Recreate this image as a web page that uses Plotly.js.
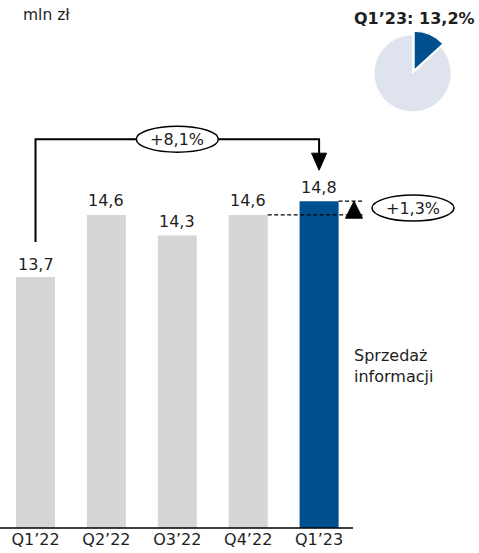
<!DOCTYPE html>
<html>
<head>
<meta charset="utf-8">
<script src="https://cdn.plot.ly/plotly-3.0.1.min.js"></script>
<style>html,body{margin:0;padding:0;background:#fff;}#chart{width:479px;height:553px;}</style>
</head>
<body>
<div id="chart"></div>
<script>
// ---- data ----
const categories = ["Q1’22", "Q2’22", "O3’22", "Q4’22", "Q1’23"];
const values = [13.7, 14.6, 14.3, 14.6, 14.8];
const valueLabels = ["13,7", "14,6", "14,3", "14,6", "14,8"];
const yoyLabel = "+8,1%";
const qoqLabel = "+1,3%";
const pieLabels = ["Sprzedaż informacji", "Pozostałe"];
const pieValues = [13.2, 86.8];
const pieTitle = "Q1’23: 13,2%";
const unitLabel = "mln zł";
const seriesName = "Sprzedaż<br>informacji";

// ---- styling / layout ----
const FONT = "DejaVu Sans, Verdana, sans-serif";
const FS = 16;
const TXT = "#1e1e1e";
const GREY = "#d5d6d8";
const BLUE = "#00508f";
const LIGHT = "#dee3ed";
const W = 479, H = 553, MB = 25;
const PH = H - MB;               // plot height in px
const Y0 = 10.05, PXU = 68.8;     // y range start, px per unit
const Y1 = Y0 + PH / PXU;
const XU = 70.9;                  // px per category
const X0 = -35.5 / XU, X1 = X0 + W / XU;
const up = px => px / PXU;
const px2x = px => X0 + px / XU;
const xs = categories.map((c, i) => i);
const last = values.length - 1;
const barW = 0.55;

const bar = {
  type: "bar", x: xs, y: values.map(v => v - Y0), base: Y0,
  width: barW,
  marker: {color: values.map((v, i) => i === last ? BLUE : GREY)},
  hoverinfo: "none", showlegend: false
};

const pie = {
  type: "pie", labels: pieLabels, values: pieValues,
  sort: false, direction: "clockwise", rotation: 0,
  marker: {colors: [BLUE, LIGHT], line: {color: "#ffffff", width: 1}},
  pull: [0.1, 0], textinfo: "none", hoverinfo: "none", showlegend: false,
  domain: {x: [370.3 / W, 455 / W], y: [1 - 115.7 / PH, 1 - 31 / PH]}
};

const topVal = Math.max(...values);
const yTop = topVal + up(62);
const annotations = [];
values.forEach((v, i) => {
  annotations.push({
    x: i, y: v, xref: "x", yref: "y", text: valueLabels[i], showarrow: false,
    yanchor: "middle", yshift: i === 0 ? 12 : 14,
    font: {family: FONT, size: FS, color: TXT}
  });
});
annotations.push({
  x: 2, y: yTop, xref: "x", yref: "y", text: yoyLabel, showarrow: false,
  yanchor: "middle", font: {family: FONT, size: FS, color: TXT}
});
annotations.push({
  x: px2x(413), y: (values[last] + values[last - 1]) / 2, xref: "x", yref: "y",
  text: qoqLabel, showarrow: false, yanchor: "middle",
  font: {family: FONT, size: FS, color: TXT}
});
annotations.push({
  x: px2x(352), y: Y0 + up(528 - 366), xref: "x", yref: "y", text: seriesName,
  showarrow: false, xanchor: "left", yanchor: "middle", align: "left",
  font: {family: FONT, size: FS, color: TXT}
});
annotations.push({
  x: 21 / W, y: 1 - 15 / PH, xref: "paper", yref: "paper", text: unitLabel,
  showarrow: false, xanchor: "left", yanchor: "middle",
  font: {family: FONT, size: 15.5, color: TXT}
});
annotations.push({
  x: 414 / W, y: 1 - 18.3 / PH, xref: "paper", yref: "paper", text: "<b>" + pieTitle + "</b>",
  showarrow: false, xanchor: "center", yanchor: "middle",
  font: {family: FONT, size: 16, color: TXT}
});

const DASH = "4px,2.5px";
const shapes = [
  // baseline
  {type: "line", xref: "x", yref: "paper", x0: X0, x1: px2x(353), y0: 0, y1: 0,
   line: {color: "#000", width: 1.5}},
  // bracket
  {type: "path", xref: "x", yref: "y",
   path: `M 0 ${values[0] + up(35)} L 0 ${yTop} L ${last} ${yTop} L ${last} ${values[last] + up(46)}`,
   line: {color: "#000", width: 2}},
  // down arrow head
  {type: "path", xref: "x", yref: "y", xsizemode: "pixel", ysizemode: "pixel",
   xanchor: last, yanchor: values[last] + up(31),
   path: "M -7.5 17 L 7.5 17 L 0 0 Z", fillcolor: "#000", line: {color: "#000", width: 1}},
  // yoy ellipse
  {type: "circle", xref: "x", yref: "y", xsizemode: "pixel", ysizemode: "pixel",
   xanchor: 2, yanchor: yTop, x0: -41, x1: 41, y0: -13, y1: 13,
   fillcolor: "#fff", line: {color: "#000", width: 1.5}},
  // dashed lines
  {type: "line", xref: "x", yref: "y", x0: last - 1 + barW / 2, x1: px2x(362.5),
   y0: values[last - 1], y1: values[last - 1], line: {color: "#000", width: 1.2, dash: DASH}},
  {type: "line", xref: "x", yref: "y", x0: last + barW / 2, x1: px2x(363),
   y0: values[last], y1: values[last], line: {color: "#000", width: 1.2, dash: DASH}},
  // up triangle
  {type: "path", xref: "x", yref: "y", xsizemode: "pixel", ysizemode: "pixel",
   xanchor: px2x(354), yanchor: values[last],
   path: "M -8.5 -17 L 8.5 -17 L 0 0 Z", fillcolor: "#000", line: {color: "#000", width: 1}},
  // qoq ellipse
  {type: "circle", xref: "x", yref: "y", xsizemode: "pixel", ysizemode: "pixel",
   xanchor: px2x(413), yanchor: (values[last] + values[last - 1]) / 2,
   x0: -41, x1: 41, y0: -13, y1: 13,
   fillcolor: "#fff", line: {color: "#000", width: 1.5}}
];

const layout = {
  width: W, height: H,
  margin: {l: 0, r: 0, t: 0, b: MB, pad: 0},
  paper_bgcolor: "#fff", plot_bgcolor: "#fff",
  xaxis: {range: [X0, X1], tickvals: xs, ticktext: categories, showgrid: false,
          zeroline: false, showline: false, ticks: "", fixedrange: true,
          tickfont: {family: FONT, size: FS, color: TXT}},
  yaxis: {range: [Y0, Y1], visible: false, showgrid: false, zeroline: false, fixedrange: true},
  annotations: annotations, shapes: shapes, showlegend: false,
  font: {family: FONT, color: TXT}
};

Plotly.newPlot("chart", [bar, pie], layout, {displayModeBar: false, staticPlot: true});
</script>
</body>
</html>
